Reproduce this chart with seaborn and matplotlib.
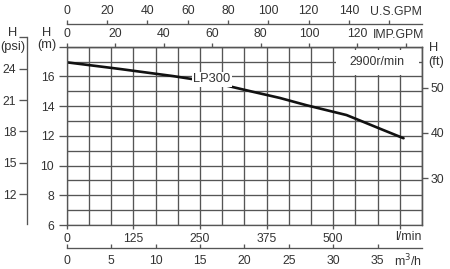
import numpy as np
import pandas as pd
import matplotlib
matplotlib.use('Agg')
import matplotlib.pyplot as plt
import seaborn as sns
from matplotlib.patches import Rectangle

# ---- data ----
flow_lpm = [0, 100, 200, 250, 300, 350, 400, 450, 500, 525, 545, 590, 632]
head_m = [16.95, 16.50, 16.02, 15.74, 15.38, 14.96, 14.55, 14.06, 13.62, 13.40, 13.11, 12.45, 11.84]
series_name = "LP300"
speed_label = "2900r/min"

lpm_ticks = [0, 125, 250, 375, 500, 625]
lpm_labels = ['0', '125', '250', '375', '500', '']
m3h_ticks = [0, 5, 10, 15, 20, 25, 30, 35]
m3h_labels = ['0', '5', '10', '15', '20', '25', '30', '35']
usgpm_ticks = [0, 20, 40, 60, 80, 100, 120, 140, 160]
usgpm_labels = ['0', '20', '40', '60', '80', '100', '120', '140', '']
impgpm_ticks = [0, 20, 40, 60, 80, 100, 120, 140]
impgpm_labels = ['0', '20', '40', '60', '80', '100', '120', '']
m_ticks = [6, 8, 10, 12, 14, 16, 18]
m_labels = ['6', '8', '10', '12', '14', '16', '']
ft_ticks = [30, 40, 50, 59.06]
ft_labels = ['30', '40', '50', '']
psi_ticks = [12, 15, 18, 21, 24, 27.05]
psi_labels = ['12', '15', '18', '21', '24', '']

# ---- style ----
sns.set_style('ticks')
plt.rcParams['font.family'] = ['Liberation Sans', 'DejaVu Sans']
GRID = '#555555'
TXT = '#333333'
FS = 8.8
LW = 0.95

W, H = 450, 269
fig = plt.figure(figsize=(W / 100, H / 100), dpi=100)
fig.patch.set_facecolor('white')

def fx(px):
    return px / W

def fy(py):
    return 1 - py / H

L, R, T, B = 66.7, 422.0, 46.7, 225.0
ax = fig.add_axes([fx(L), fy(B), fx(R - L), (B - T) / H])

df = pd.DataFrame({'flow': flow_lpm, 'head': head_m})
sns.lineplot(data=df, x='flow', y='head', ax=ax, color='#111111', lw=1.9, zorder=2)

xmax = 40 / 0.06
ax.set_xlim(0, xmax)
ax.set_ylim(6, 18)
ax.set_xlabel('')
ax.set_ylabel('')
ax.set_axisbelow(True)

ax.set_xticks(lpm_ticks)
ax.set_xticklabels(lpm_labels)
ax.set_yticks(m_ticks)
ax.set_yticklabels(m_labels)
ax.set_xticks(np.arange(0, xmax + 1, xmax / 16), minor=True)
ax.set_yticks(np.arange(6, 18.5, 1), minor=True)
ax.grid(which='both', color=GRID, lw=LW)
ax.tick_params(which='minor', length=0)
ax.tick_params(axis='x', which='major', direction='out', length=3, width=LW,
               color=GRID, labelsize=FS, labelcolor=TXT, pad=2.5)
ax.tick_params(axis='y', which='major', direction='out', length=6, width=LW,
               color=GRID, labelsize=FS, labelcolor=TXT, pad=3)
for s in ax.spines.values():
    s.set_color(GRID)
    s.set_linewidth(LW)
    s.set_visible(True)

# white box with speed
ax.add_patch(Rectangle((505, 16.1), 156, 1.68, facecolor='white', edgecolor='none', zorder=1))
ax.text(583, 16.94, speed_label, ha='center', va='center', fontsize=FS, color=TXT, zorder=3)

# series label on curve
ax.text(272, 15.81, series_name, ha='center', va='center', fontsize=FS + 0.5, color=TXT, zorder=3,
        bbox=dict(boxstyle='square,pad=0.1', facecolor='white', edgecolor='none'))

# IMP GPM top axis
imp = ax.secondary_xaxis('top', functions=(lambda x: x / 4.54609, lambda g: g * 4.54609))
imp.set_xticks(impgpm_ticks)
imp.set_xticklabels(impgpm_labels)
imp.tick_params(direction='out', length=3, width=LW, color=GRID, labelsize=FS, labelcolor=TXT, pad=2)
imp.spines['top'].set_color(GRID)
imp.spines['top'].set_linewidth(LW)

# US GPM axis higher up
loc_us = (B - 24.3) / (B - T)
us = ax.secondary_xaxis(loc_us, functions=(lambda x: x / 3.78541, lambda g: g * 3.78541))
us.set_xticks(usgpm_ticks)
us.set_xticklabels(usgpm_labels)
us.tick_params(direction='out', length=3, width=LW, color=GRID, labelsize=FS, labelcolor=TXT, pad=2)
for s in us.spines.values():
    s.set_color(GRID)
    s.set_linewidth(LW)

# m3/h axis below
loc_m3 = (B - 248.3) / (B - T)
m3 = ax.secondary_xaxis(loc_m3, functions=(lambda x: x * 0.06, lambda q: q / 0.06))
m3.set_xticks(m3h_ticks)
m3.set_xticklabels(m3h_labels)
m3.tick_params(direction='in', length=3, width=LW, color=GRID, labelsize=FS, labelcolor=TXT, pad=5)
for s in m3.spines.values():
    s.set_color(GRID)
    s.set_linewidth(LW)

# ft right axis
ft = ax.secondary_yaxis('right', functions=(lambda m: m * 3.28084, lambda f: f / 3.28084))
ft.set_yticks(ft_ticks)
ft.set_yticklabels(ft_labels)
ft.tick_params(direction='out', length=4, width=LW, color=GRID, labelsize=FS, labelcolor=TXT, pad=2)
for s in ft.spines.values():
    s.set_color(GRID)
    s.set_linewidth(LW)

# psi axis (separate spine at far left)
PT, PB = 37.0, 224.0
axp = fig.add_axes([fx(26.7), fy(PB), 0.0001, (PB - PT) / H])
axp.set_ylim(9.14, 27.05)
axp.set_yticks(psi_ticks)
axp.set_yticklabels(psi_labels)
axp.set_xticks([])
for k, s in axp.spines.items():
    s.set_visible(k == 'left')
    s.set_color(GRID)
    s.set_linewidth(LW)
axp.patch.set_visible(False)
axp.tick_params(axis='y', direction='out', length=6, width=LW, color=GRID, labelsize=FS,
                labelcolor=TXT, pad=1.5)

# unit labels
fig.text(fx(R), fy(12.3), 'U.S.GPM', ha='right', va='center', fontsize=FS, color=TXT)
fig.text(fx(424.5), fy(35.0), 'IMP.GPM', ha='right', va='center', fontsize=FS, color=TXT)
fig.text(fx(R), fy(236.5), 'l/min', ha='right', va='center', fontsize=FS, color=TXT)
fig.text(fx(R), fy(261.0), 'm$^3$/h', ha='right', va='center', fontsize=FS, color=TXT)
fig.text(fx(47), fy(33.0), 'H', ha='center', va='center', fontsize=FS + 0.5, color=TXT)
fig.text(fx(47), fy(45.5), '(m)', ha='center', va='center', fontsize=FS + 0.5, color=TXT)
fig.text(fx(13), fy(33.0), 'H', ha='center', va='center', fontsize=FS + 0.5, color=TXT)
fig.text(fx(13), fy(46.5), '(psi)', ha='center', va='center', fontsize=FS + 0.5, color=TXT)
fig.text(fx(433.5), fy(48.0), 'H', ha='center', va='center', fontsize=FS + 0.5, color=TXT)
fig.text(fx(436), fy(62.0), '(ft)', ha='center', va='center', fontsize=FS + 0.5, color=TXT)

fig.savefig('out.png', dpi=100, facecolor='white')
